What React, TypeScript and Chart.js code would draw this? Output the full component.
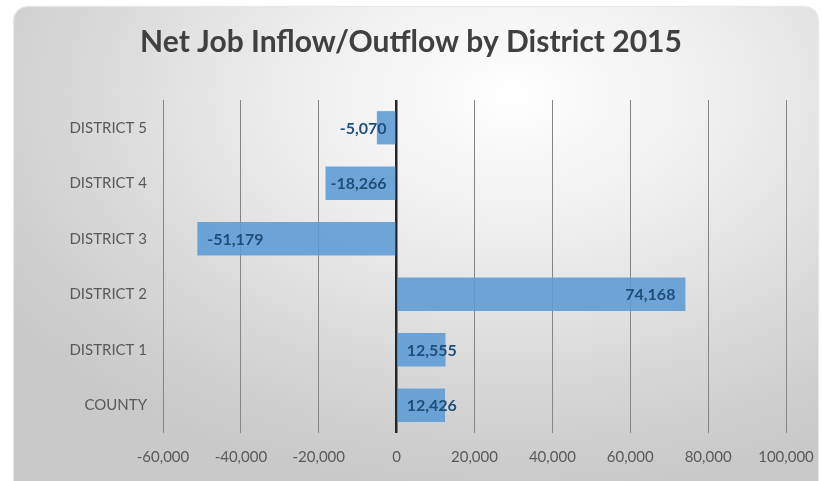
import React, { useEffect, useRef } from "react";
import { Chart, registerables } from "chart.js";

Chart.register(...registerables);

const titleText = "Net Job Inflow/Outflow by District 2015";
const categories = ["DISTRICT 5", "DISTRICT 4", "DISTRICT 3", "DISTRICT 2", "DISTRICT 1", "COUNTY"];
const netJobs = [-5070, -18266, -51179, 74168, 12555, 12426];
const xMin = -60000;
const xMax = 100000;
const xStep = 20000;

const fmt = (v: number) => v.toLocaleString("en-US");

const valueLabelPlugin = {
  id: "valueLabels",
  afterDatasetsDraw(chart: any) {
    const ctx = chart.ctx;
    const meta = chart.getDatasetMeta(0);
    const base = chart.scales.x.getPixelForValue(0);
    ctx.save();
    ctx.font = "bold 16px Lato";
    ctx.fillStyle = "#1f4e79";
    ctx.textBaseline = "middle";
    ctx.textAlign = "left";
    const pad = 10;
    meta.data.forEach((bar: any, i: number) => {
      const v = netJobs[i];
      const text = fmt(v);
      const w = ctx.measureText(text).width;
      let x: number;
      if (v >= 0) {
        x = bar.x - pad - w;
        if (x < base + pad) x = base + pad;
      } else {
        x = bar.x + pad;
        if (x + w > base - pad) x = base - pad - w;
      }
      ctx.fillText(text, x, bar.y + 1);
    });
    ctx.restore();
  },
};

export default function App() {
  const canvasRef = useRef<HTMLCanvasElement | null>(null);

  useEffect(() => {
    if (!canvasRef.current) return;
    const chart = new Chart(canvasRef.current, {
      type: "bar",
      data: {
        labels: categories,
        datasets: [
          {
            data: netJobs,
            backgroundColor: "rgba(91,155,213,0.88)",
            borderWidth: 0,
            barPercentage: 0.6,
            categoryPercentage: 1,
          },
        ],
      },
      options: {
        indexAxis: "y",
        responsive: false,
        animation: false,
        layout: { padding: { left: 36, right: 36, top: 0, bottom: 0 } },
        plugins: {
          legend: { display: false },
          tooltip: { enabled: false },
          title: {
            display: true,
            text: titleText,
            color: "#404040",
            font: { family: "Lato", size: 30, weight: "bold" },
            padding: { top: 24, bottom: 40 },
          },
        },
        scales: {
          x: {
            min: xMin,
            max: xMax,
            ticks: {
              stepSize: xStep,
              color: "#595959",
              font: { family: "Lato", size: 15 },
              padding: 15,
              callback: (v: any) => fmt(Number(v)),
            },
            grid: {
              drawTicks: false,
              color: (c: any) => (c.tick && c.tick.value === 0 ? "#262626" : "#858585"),
              lineWidth: (c: any) => (c.tick && c.tick.value === 0 ? 2.5 : 1),
            },
            border: { display: false },
            afterFit: (s: any) => {
              s.height = 48;
              s.paddingLeft = 0;
              s.paddingRight = 0;
            },
          },
          y: {
            ticks: {
              color: "#595959",
              font: { family: "Lato", size: 15 },
              padding: 16,
            },
            grid: { display: false, drawTicks: false },
            border: { display: false },
            afterFit: (s: any) => {
              s.width = 127;
            },
          },
        },
      },
      plugins: [valueLabelPlugin],
    } as any);
    return () => chart.destroy();
  }, []);

  return (
    <div style={{ position: "fixed", left: 0, top: 0, width: 822, height: 481, background: "#ffffff", overflow: "hidden" }}>
      <div
        style={{
          position: "absolute",
          left: 14,
          top: 7,
          width: 804,
          height: 490,
          borderRadius: 14,
          background:
            "radial-gradient(ellipse 75% 80% at 62% 18%, #ffffff 0%, #ececec 40%, #d6d6d6 75%, #c9c9c9 100%)",
          boxShadow: "0 0 2px rgba(0,0,0,0.35)",
        }}
      />
      <canvas ref={canvasRef} width={822} height={481} style={{ position: "absolute", left: 0, top: 0 }} />
    </div>
  );
}
